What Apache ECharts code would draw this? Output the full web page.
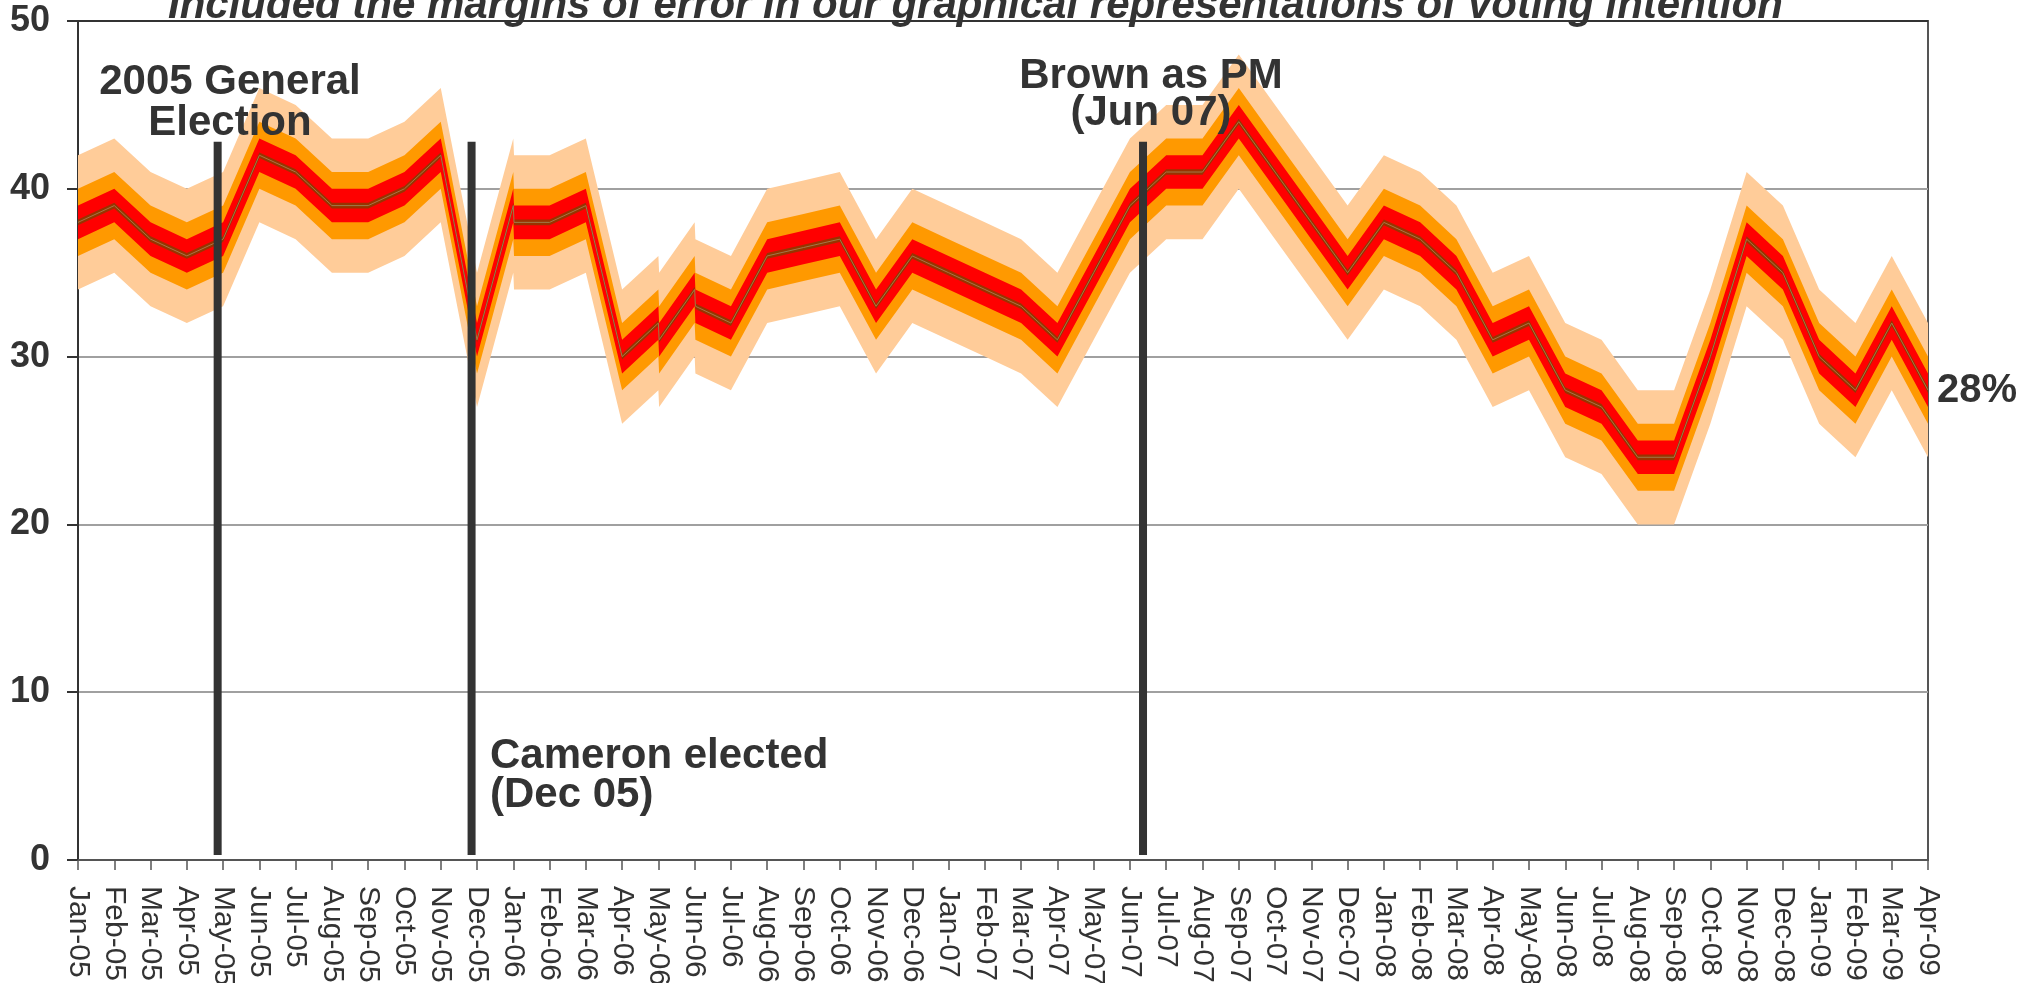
<!DOCTYPE html>
<html>
<head>
<meta charset="utf-8">
<title>Voting intention with margins of error</title>
<script src="https://cdn.jsdelivr.net/npm/echarts@6.0.0/dist/echarts.min.js"></script>
<style>
  html, body { margin: 0; padding: 0; background: #fff; }
  #main { width: 2026px; height: 983px; }
</style>
</head>
<body>
<div id="main"></div>
<script>
// month tick labels
var months = [
  "Jan-05", "Feb-05", "Mar-05", "Apr-05", "May-05", "Jun-05", "Jul-05", "Aug-05", "Sep-05", "Oct-05", "Nov-05", "Dec-05",
  "Jan-06", "Feb-06", "Mar-06", "Apr-06", "May-06", "Jun-06", "Jul-06", "Aug-06", "Sep-06", "Oct-06", "Nov-06", "Dec-06",
  "Jan-07", "Feb-07", "Mar-07", "Apr-07", "May-07", "Jun-07", "Jul-07", "Aug-07", "Sep-07", "Oct-07", "Nov-07", "Dec-07",
  "Jan-08", "Feb-08", "Mar-08", "Apr-08", "May-08", "Jun-08", "Jul-08", "Aug-08", "Sep-08", "Oct-08", "Nov-08", "Dec-08",
  "Jan-09", "Feb-09", "Mar-09", "Apr-09"
]

// poll position (month index, two polls in some months) and share (%)
var pollX = [
  0, 1, 2, 3, 4, 5, 6, 7, 8, 9, 10, 11, 12, 12.02, 13, 14, 15, 16, 16.02, 17, 17.02,
  18, 19, 20, 21, 22, 23, 24, 25, 26, 27, 28, 29, 30, 31, 32, 33, 34, 35,
  36, 37, 38, 39, 40, 41, 42, 43, 44, 45, 46, 47, 48, 49, 50, 51
]
var share = [
  38, 39, 37, 36, 37, 42, 41, 39, 39, 40, 42, 31, 39, 38, 38, 39, 30, 32, 31, 34, 33,
  32, 36, 36.5, 37, 33, 36, 35, 34, 33, 31, 35, 39, 41, 41, 44, 41, 38, 35,
  38, 37, 35, 31, 32, 28, 27, 24, 24, 30, 37, 35, 30, 28, 32, 28
]

// margins of error drawn around the line (outer to inner)
var errorBands = [4, 2, 1]
var bandColors = ["#FFCC99", "#FF9900", "#FF0000"]

// events: month index of the vertical marker
var eventX = [3.85, 10.85, 29.36]
var eventLow = 0.3
var eventHigh = 42.8

var chart = echarts.init(document.getElementById("main"))

function bandPoints(api, lo, hi) {
  var pts = []
  for (var i = 0; i < pollX.length; i++) pts.push(api.coord([pollX[i], share[i] + hi]))
  for (var j = pollX.length - 1; j >= 0; j--) pts.push(api.coord([pollX[j], share[j] + lo]))
  return pts
}

var font = "'Liberation Sans', Arial, sans-serif"

var option = {
  animation: false,
  backgroundColor: "#fff",
  grid: {
    left: 78,
    right: 98,
    top: 21,
    bottom: 123,
    show: true,
    borderColor: "#555",
    borderWidth: 2,
    outerBoundsMode: "none"
  },
  xAxis: {
    type: "value",
    min: 0,
    max: 51,
    interval: 1,
    splitLine: { show: false },
    axisLine: { show: true, onZero: false, lineStyle: { color: "#555", width: 2 } },
    axisTick: { show: true, length: 10, lineStyle: { color: "#555", width: 1.5 } },
    axisLabel: {
      rotate: -90,
      margin: 26,
      color: "#333",
      fontFamily: font,
      fontSize: 30,
      formatter: function (v) {
        return months[Math.round(v)]
      }
    }
  },
  yAxis: {
    type: "value",
    min: 0,
    max: 50,
    interval: 10,
    axisLine: { show: true, lineStyle: { color: "#333", width: 2 } },
    axisTick: { show: true, length: 11, lineStyle: { color: "#333", width: 2 } },
    splitLine: {
      show: true,
      lineStyle: { color: ["#a0a0a0", "#a0a0a0", "#a0a0a0", "#a0a0a0", "#a0a0a0", "#333"], width: 2 }
    },
    axisLabel: {
      margin: 28,
      color: "#333",
      fontFamily: font,
      fontSize: 36,
      fontWeight: "bold"
    }
  },
  series: [
    {
      // shaded margins of error and the central line
      type: "custom",
      clip: true,
      encode: { x: 0, y: 1 },
      data: pollX.map(function (x, i) {
        return [x, share[i]]
      }),
      renderItem: function (params, api) {
        if (params.dataIndex !== 0) return null
        var children = []
        errorBands.forEach(function (m, k) {
          children.push({
            type: "polygon",
            shape: { points: bandPoints(api, -m, m) },
            style: { fill: bandColors[k] }
          })
        })
        children.push({
          type: "polygon",
          shape: { points: bandPoints(api, -0.17, 0.17) },
          style: { fill: "#993300" }
        })
        children.push({
          type: "polyline",
          shape: { points: bandPoints(api, 0, 0).slice(0, pollX.length) },
          style: { stroke: "#a07a48", lineWidth: 1, fill: null }
        })
        return { type: "group", children: children }
      },
      z: 2
    },
    {
      // vertical event markers
      type: "custom",
      encode: { x: 0, y: [1, 2] },
      data: eventX.map(function (x) {
        return [x, eventLow, eventHigh]
      }),
      renderItem: function (params, api) {
        var p0 = api.coord([api.value(0), api.value(1)])
        var p1 = api.coord([api.value(0), api.value(2)])
        return {
          type: "line",
          shape: { x1: p0[0], y1: p0[1], x2: p1[0], y2: p1[1] },
          style: { stroke: "#333", lineWidth: 8 }
        }
      },
      z: 3
    }
  ],
  graphic: [
    {
      type: "text",
      left: 168,
      top: -15,
      z: 10,
      style: {
        text: "Included the margins of error in our graphical representations of voting intention",
        font: "italic bold 42px " + font,
        fill: "#333"
      }
    },
    {
      type: "text",
      x: 230,
      y: 62,
      z: 10,
      style: {
        text: "2005 General\nElection",
        font: "bold 42px " + font,
        lineHeight: 41,
        align: "center",
        verticalAlign: "top",
        fill: "#333"
      }
    },
    {
      type: "text",
      x: 490,
      y: 737,
      z: 10,
      style: {
        text: "Cameron elected\n(Dec 05)",
        font: "bold 42px " + font,
        lineHeight: 39,
        align: "left",
        verticalAlign: "top",
        fill: "#333"
      }
    },
    {
      type: "text",
      x: 1151,
      y: 58,
      z: 10,
      style: {
        text: "Brown as PM\n(Jun 07)",
        font: "bold 42px " + font,
        lineHeight: 37,
        align: "center",
        verticalAlign: "top",
        fill: "#333"
      }
    },
    {
      type: "text",
      x: 1937,
      y: 391,
      z: 10,
      style: {
        text: "28%",
        font: "bold 40px " + font,
        align: "left",
        verticalAlign: "middle",
        fill: "#333"
      }
    }
  ]
}

chart.setOption(option)
</script>
</body>
</html>
